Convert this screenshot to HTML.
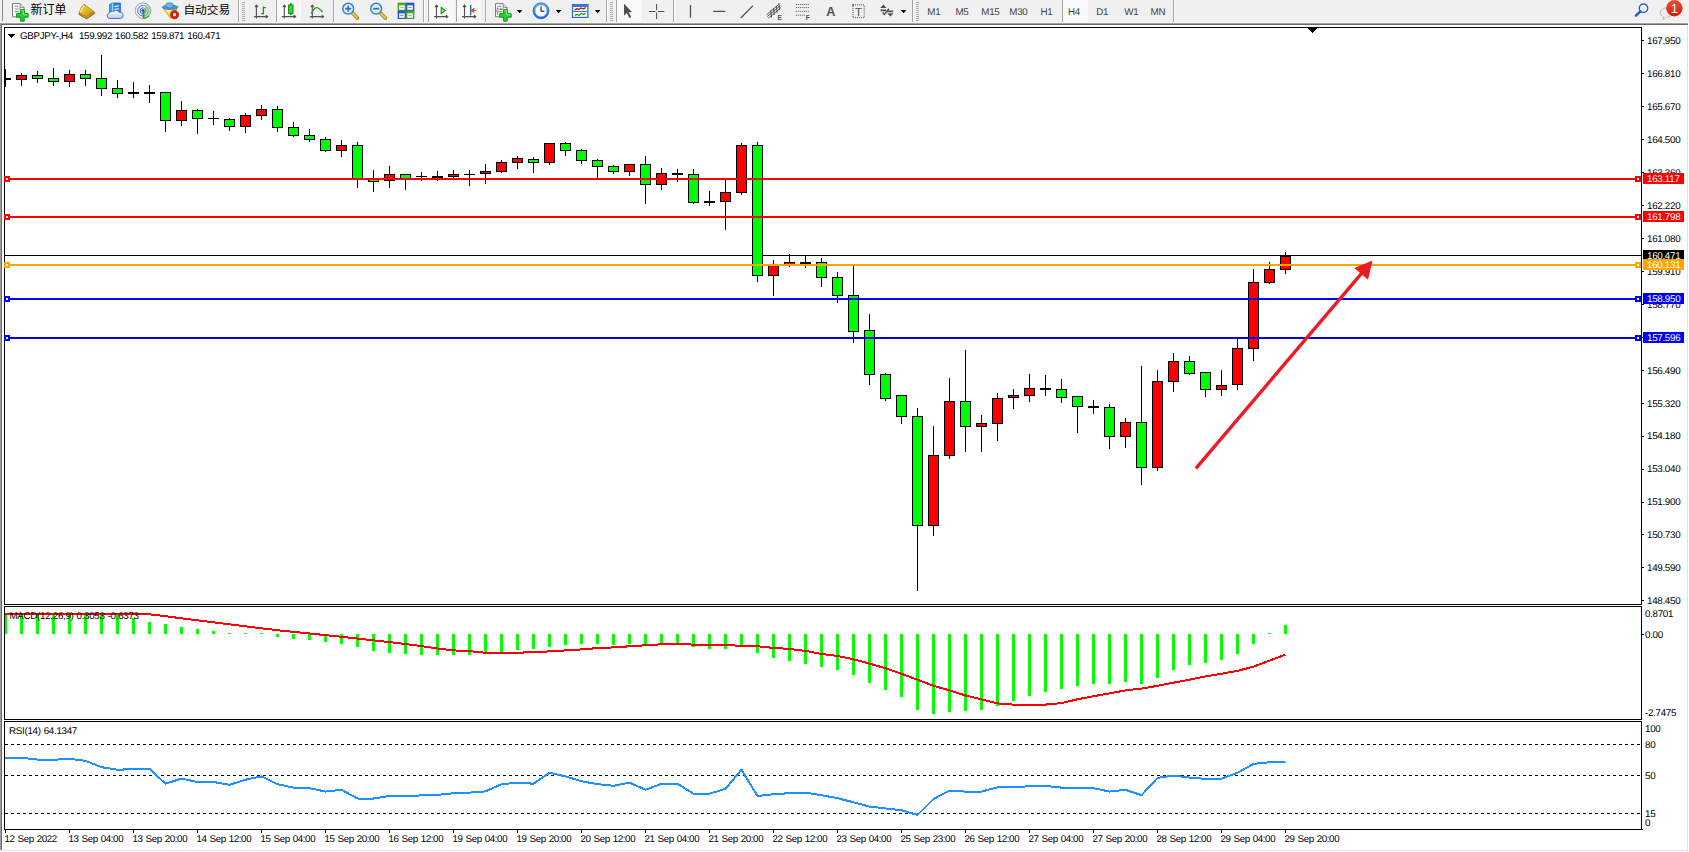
<!DOCTYPE html>
<html lang="zh"><head><meta charset="utf-8"><title>GBPJPY-,H4</title>
<style>
html,body{margin:0;padding:0;background:#fff}
#root{position:relative;width:1689px;height:852px;overflow:hidden;background:#fff;font-family:"Liberation Sans","Noto Sans CJK SC",sans-serif}
svg{position:absolute;left:0;top:0}
.t{position:absolute;white-space:nowrap;font-size:9.8px;line-height:12px;height:12px;letter-spacing:-0.3px;word-spacing:0.6px;text-rendering:geometricPrecision}
.pb{position:absolute;left:1643px;width:41px;font-size:9.8px;white-space:nowrap;letter-spacing:-0.3px;overflow:hidden}
.pb span{position:absolute;left:4px;top:1px;display:block;line-height:12px;height:12px;text-rendering:geometricPrecision}
.tb{position:absolute;white-space:nowrap;line-height:14px;height:14px;color:#000}
.pd{width:40px;text-align:center;font-size:9.8px;line-height:12px;height:12px;color:#444;letter-spacing:-0.3px;text-rendering:geometricPrecision}
</style></head><body><div id="root">
<svg width="1689" height="852" viewBox="0 0 1689 852" shape-rendering="crispEdges">
<rect x="0" y="0" width="1689" height="22" fill="#f0f0f0"/>
<rect x="0" y="22" width="1689" height="1" fill="#f7f7f7"/>
<rect x="0" y="23" width="1688" height="1" fill="#a0a0a0"/>
<rect x="1" y="24" width="1687" height="1" fill="#696969"/>
<rect x="0" y="23" width="1" height="827" fill="#a0a0a0"/>
<rect x="1" y="24" width="1" height="826" fill="#696969"/>
<rect x="1687" y="25" width="1" height="826" fill="#e3e3e3"/>
<rect x="2" y="850" width="1686" height="1" fill="#e3e3e3"/>
<rect x="4" y="27" width="1638" height="1" fill="#000"/>
<rect x="4" y="604" width="1638" height="1" fill="#000"/>
<rect x="4" y="27" width="1" height="578" fill="#000"/>
<rect x="1641" y="27" width="1" height="578" fill="#000"/>
<rect x="4" y="606" width="1638" height="1" fill="#000"/>
<rect x="4" y="719" width="1638" height="1" fill="#000"/>
<rect x="4" y="606" width="1" height="114" fill="#000"/>
<rect x="1641" y="606" width="1" height="114" fill="#000"/>
<rect x="4" y="721" width="1638" height="1" fill="#000"/>
<rect x="4" y="829" width="1638" height="1" fill="#000"/>
<rect x="4" y="721" width="1" height="109" fill="#000"/>
<rect x="1641" y="721" width="1" height="109" fill="#000"/>
<rect x="1642" y="829" width="1" height="1" fill="#000"/>
<rect x="5" y="255" width="1636" height="1" fill="#000"/>
<rect x="5" y="69" width="1" height="18" fill="#000"/>
<rect x="5" y="78" width="6" height="2" fill="#000"/>
<rect x="21" y="73" width="1" height="13" fill="#000"/>
<rect x="16" y="75" width="11" height="5" fill="#000"/>
<rect x="17" y="76" width="9" height="3" fill="#ff0000"/>
<rect x="37" y="71" width="1" height="12" fill="#000"/>
<rect x="32" y="75" width="11" height="4" fill="#000"/>
<rect x="33" y="76" width="9" height="2" fill="#00ff00"/>
<rect x="53" y="68" width="1" height="18" fill="#000"/>
<rect x="48" y="78" width="11" height="4" fill="#000"/>
<rect x="49" y="79" width="9" height="2" fill="#00ff00"/>
<rect x="69" y="70" width="1" height="17" fill="#000"/>
<rect x="64" y="74" width="11" height="8" fill="#000"/>
<rect x="65" y="75" width="9" height="6" fill="#ff0000"/>
<rect x="85" y="70" width="1" height="16" fill="#000"/>
<rect x="80" y="74" width="11" height="5" fill="#000"/>
<rect x="81" y="75" width="9" height="3" fill="#00ff00"/>
<rect x="101" y="55" width="1" height="41" fill="#000"/>
<rect x="96" y="78" width="11" height="11" fill="#000"/>
<rect x="97" y="79" width="9" height="9" fill="#00ff00"/>
<rect x="117" y="80" width="1" height="18" fill="#000"/>
<rect x="112" y="88" width="11" height="6" fill="#000"/>
<rect x="113" y="89" width="9" height="4" fill="#00ff00"/>
<rect x="133" y="82" width="1" height="16" fill="#000"/>
<rect x="128" y="92" width="11" height="2" fill="#000"/>
<rect x="149" y="85" width="1" height="18" fill="#000"/>
<rect x="144" y="92" width="11" height="2" fill="#000"/>
<rect x="165" y="92" width="1" height="40" fill="#000"/>
<rect x="160" y="92" width="11" height="29" fill="#000"/>
<rect x="161" y="93" width="9" height="27" fill="#00ff00"/>
<rect x="181" y="101" width="1" height="25" fill="#000"/>
<rect x="176" y="110" width="11" height="11" fill="#000"/>
<rect x="177" y="111" width="9" height="9" fill="#ff0000"/>
<rect x="197" y="109" width="1" height="25" fill="#000"/>
<rect x="192" y="110" width="11" height="9" fill="#000"/>
<rect x="193" y="111" width="9" height="7" fill="#00ff00"/>
<rect x="213" y="111" width="1" height="14" fill="#000"/>
<rect x="208" y="118" width="11" height="1" fill="#000"/>
<rect x="229" y="118" width="1" height="13" fill="#000"/>
<rect x="224" y="119" width="11" height="8" fill="#000"/>
<rect x="225" y="120" width="9" height="6" fill="#00ff00"/>
<rect x="245" y="113" width="1" height="20" fill="#000"/>
<rect x="240" y="115" width="11" height="12" fill="#000"/>
<rect x="241" y="116" width="9" height="10" fill="#ff0000"/>
<rect x="261" y="105" width="1" height="15" fill="#000"/>
<rect x="256" y="109" width="11" height="7" fill="#000"/>
<rect x="257" y="110" width="9" height="5" fill="#ff0000"/>
<rect x="277" y="106" width="1" height="26" fill="#000"/>
<rect x="272" y="109" width="11" height="19" fill="#000"/>
<rect x="273" y="110" width="9" height="17" fill="#00ff00"/>
<rect x="293" y="122" width="1" height="15" fill="#000"/>
<rect x="288" y="127" width="11" height="9" fill="#000"/>
<rect x="289" y="128" width="9" height="7" fill="#00ff00"/>
<rect x="309" y="129" width="1" height="13" fill="#000"/>
<rect x="304" y="135" width="11" height="5" fill="#000"/>
<rect x="305" y="136" width="9" height="3" fill="#00ff00"/>
<rect x="325" y="137" width="1" height="15" fill="#000"/>
<rect x="320" y="139" width="11" height="12" fill="#000"/>
<rect x="321" y="140" width="9" height="10" fill="#00ff00"/>
<rect x="341" y="140" width="1" height="17" fill="#000"/>
<rect x="336" y="145" width="11" height="6" fill="#000"/>
<rect x="337" y="146" width="9" height="4" fill="#ff0000"/>
<rect x="357" y="142" width="1" height="46" fill="#000"/>
<rect x="352" y="145" width="11" height="35" fill="#000"/>
<rect x="353" y="146" width="9" height="33" fill="#00ff00"/>
<rect x="373" y="170" width="1" height="22" fill="#000"/>
<rect x="368" y="178" width="11" height="4" fill="#000"/>
<rect x="369" y="179" width="9" height="2" fill="#00ff00"/>
<rect x="389" y="166" width="1" height="22" fill="#000"/>
<rect x="384" y="174" width="11" height="7" fill="#000"/>
<rect x="385" y="175" width="9" height="5" fill="#ff0000"/>
<rect x="405" y="174" width="1" height="16" fill="#000"/>
<rect x="400" y="174" width="11" height="5" fill="#000"/>
<rect x="401" y="175" width="9" height="3" fill="#00ff00"/>
<rect x="421" y="172" width="1" height="9" fill="#000"/>
<rect x="416" y="176" width="11" height="1" fill="#000"/>
<rect x="437" y="171" width="1" height="10" fill="#000"/>
<rect x="432" y="176" width="11" height="2" fill="#000"/>
<rect x="453" y="170" width="1" height="8" fill="#000"/>
<rect x="448" y="174" width="11" height="3" fill="#000"/>
<rect x="449" y="175" width="9" height="1" fill="#ff0000"/>
<rect x="469" y="170" width="1" height="16" fill="#000"/>
<rect x="464" y="174" width="11" height="1" fill="#000"/>
<rect x="485" y="164" width="1" height="20" fill="#000"/>
<rect x="480" y="171" width="11" height="3" fill="#000"/>
<rect x="481" y="172" width="9" height="1" fill="#ff0000"/>
<rect x="501" y="160" width="1" height="13" fill="#000"/>
<rect x="496" y="162" width="11" height="10" fill="#000"/>
<rect x="497" y="163" width="9" height="8" fill="#ff0000"/>
<rect x="517" y="156" width="1" height="13" fill="#000"/>
<rect x="512" y="158" width="11" height="5" fill="#000"/>
<rect x="513" y="159" width="9" height="3" fill="#ff0000"/>
<rect x="533" y="157" width="1" height="16" fill="#000"/>
<rect x="528" y="159" width="11" height="4" fill="#000"/>
<rect x="529" y="160" width="9" height="2" fill="#00ff00"/>
<rect x="549" y="143" width="1" height="22" fill="#000"/>
<rect x="544" y="143" width="11" height="20" fill="#000"/>
<rect x="545" y="144" width="9" height="18" fill="#ff0000"/>
<rect x="565" y="142" width="1" height="14" fill="#000"/>
<rect x="560" y="143" width="11" height="8" fill="#000"/>
<rect x="561" y="144" width="9" height="6" fill="#00ff00"/>
<rect x="581" y="149" width="1" height="15" fill="#000"/>
<rect x="576" y="150" width="11" height="11" fill="#000"/>
<rect x="577" y="151" width="9" height="9" fill="#00ff00"/>
<rect x="597" y="159" width="1" height="19" fill="#000"/>
<rect x="592" y="160" width="11" height="7" fill="#000"/>
<rect x="593" y="161" width="9" height="5" fill="#00ff00"/>
<rect x="613" y="165" width="1" height="9" fill="#000"/>
<rect x="608" y="166" width="11" height="6" fill="#000"/>
<rect x="609" y="167" width="9" height="4" fill="#00ff00"/>
<rect x="629" y="164" width="1" height="12" fill="#000"/>
<rect x="624" y="164" width="11" height="8" fill="#000"/>
<rect x="625" y="165" width="9" height="6" fill="#ff0000"/>
<rect x="645" y="156" width="1" height="48" fill="#000"/>
<rect x="640" y="164" width="11" height="21" fill="#000"/>
<rect x="641" y="165" width="9" height="19" fill="#00ff00"/>
<rect x="661" y="168" width="1" height="22" fill="#000"/>
<rect x="656" y="173" width="11" height="12" fill="#000"/>
<rect x="657" y="174" width="9" height="10" fill="#ff0000"/>
<rect x="677" y="169" width="1" height="13" fill="#000"/>
<rect x="672" y="173" width="11" height="2" fill="#000"/>
<rect x="693" y="169" width="1" height="35" fill="#000"/>
<rect x="688" y="174" width="11" height="29" fill="#000"/>
<rect x="689" y="175" width="9" height="27" fill="#00ff00"/>
<rect x="709" y="191" width="1" height="15" fill="#000"/>
<rect x="704" y="201" width="11" height="2" fill="#000"/>
<rect x="725" y="180" width="1" height="50" fill="#000"/>
<rect x="720" y="192" width="11" height="10" fill="#000"/>
<rect x="721" y="193" width="9" height="8" fill="#ff0000"/>
<rect x="741" y="143" width="1" height="52" fill="#000"/>
<rect x="736" y="145" width="11" height="48" fill="#000"/>
<rect x="737" y="146" width="9" height="46" fill="#ff0000"/>
<rect x="757" y="142" width="1" height="140" fill="#000"/>
<rect x="752" y="145" width="11" height="131" fill="#000"/>
<rect x="753" y="146" width="9" height="129" fill="#00ff00"/>
<rect x="773" y="260" width="1" height="36" fill="#000"/>
<rect x="768" y="265" width="11" height="11" fill="#000"/>
<rect x="769" y="266" width="9" height="9" fill="#ff0000"/>
<rect x="789" y="254" width="1" height="13" fill="#000"/>
<rect x="784" y="262" width="11" height="4" fill="#000"/>
<rect x="785" y="263" width="9" height="2" fill="#ff0000"/>
<rect x="805" y="255" width="1" height="13" fill="#000"/>
<rect x="800" y="262" width="11" height="2" fill="#000"/>
<rect x="821" y="258" width="1" height="29" fill="#000"/>
<rect x="816" y="262" width="11" height="16" fill="#000"/>
<rect x="817" y="263" width="9" height="14" fill="#00ff00"/>
<rect x="837" y="272" width="1" height="31" fill="#000"/>
<rect x="832" y="277" width="11" height="19" fill="#000"/>
<rect x="833" y="278" width="9" height="17" fill="#00ff00"/>
<rect x="853" y="266" width="1" height="77" fill="#000"/>
<rect x="848" y="295" width="11" height="37" fill="#000"/>
<rect x="849" y="296" width="9" height="35" fill="#00ff00"/>
<rect x="869" y="314" width="1" height="71" fill="#000"/>
<rect x="864" y="330" width="11" height="45" fill="#000"/>
<rect x="865" y="331" width="9" height="43" fill="#00ff00"/>
<rect x="885" y="373" width="1" height="28" fill="#000"/>
<rect x="880" y="374" width="11" height="25" fill="#000"/>
<rect x="881" y="375" width="9" height="23" fill="#00ff00"/>
<rect x="901" y="395" width="1" height="29" fill="#000"/>
<rect x="896" y="395" width="11" height="22" fill="#000"/>
<rect x="897" y="396" width="9" height="20" fill="#00ff00"/>
<rect x="917" y="408" width="1" height="183" fill="#000"/>
<rect x="912" y="416" width="11" height="110" fill="#000"/>
<rect x="913" y="417" width="9" height="108" fill="#00ff00"/>
<rect x="933" y="426" width="1" height="110" fill="#000"/>
<rect x="928" y="455" width="11" height="71" fill="#000"/>
<rect x="929" y="456" width="9" height="69" fill="#ff0000"/>
<rect x="949" y="378" width="1" height="81" fill="#000"/>
<rect x="944" y="401" width="11" height="55" fill="#000"/>
<rect x="945" y="402" width="9" height="53" fill="#ff0000"/>
<rect x="965" y="350" width="1" height="102" fill="#000"/>
<rect x="960" y="401" width="11" height="26" fill="#000"/>
<rect x="961" y="402" width="9" height="24" fill="#00ff00"/>
<rect x="981" y="415" width="1" height="37" fill="#000"/>
<rect x="976" y="423" width="11" height="4" fill="#000"/>
<rect x="977" y="424" width="9" height="2" fill="#ff0000"/>
<rect x="997" y="393" width="1" height="48" fill="#000"/>
<rect x="992" y="398" width="11" height="26" fill="#000"/>
<rect x="993" y="399" width="9" height="24" fill="#ff0000"/>
<rect x="1013" y="389" width="1" height="20" fill="#000"/>
<rect x="1008" y="395" width="11" height="3" fill="#000"/>
<rect x="1009" y="396" width="9" height="1" fill="#ff0000"/>
<rect x="1029" y="374" width="1" height="28" fill="#000"/>
<rect x="1024" y="388" width="11" height="8" fill="#000"/>
<rect x="1025" y="389" width="9" height="6" fill="#ff0000"/>
<rect x="1045" y="375" width="1" height="21" fill="#000"/>
<rect x="1040" y="388" width="11" height="2" fill="#000"/>
<rect x="1061" y="379" width="1" height="24" fill="#000"/>
<rect x="1056" y="389" width="11" height="9" fill="#000"/>
<rect x="1057" y="390" width="9" height="7" fill="#00ff00"/>
<rect x="1077" y="396" width="1" height="37" fill="#000"/>
<rect x="1072" y="396" width="11" height="11" fill="#000"/>
<rect x="1073" y="397" width="9" height="9" fill="#00ff00"/>
<rect x="1093" y="400" width="1" height="14" fill="#000"/>
<rect x="1088" y="406" width="11" height="2" fill="#000"/>
<rect x="1109" y="404" width="1" height="45" fill="#000"/>
<rect x="1104" y="407" width="11" height="30" fill="#000"/>
<rect x="1105" y="408" width="9" height="28" fill="#00ff00"/>
<rect x="1125" y="418" width="1" height="30" fill="#000"/>
<rect x="1120" y="422" width="11" height="15" fill="#000"/>
<rect x="1121" y="423" width="9" height="13" fill="#ff0000"/>
<rect x="1141" y="366" width="1" height="119" fill="#000"/>
<rect x="1136" y="422" width="11" height="46" fill="#000"/>
<rect x="1137" y="423" width="9" height="44" fill="#00ff00"/>
<rect x="1157" y="370" width="1" height="101" fill="#000"/>
<rect x="1152" y="381" width="11" height="87" fill="#000"/>
<rect x="1153" y="382" width="9" height="85" fill="#ff0000"/>
<rect x="1173" y="353" width="1" height="39" fill="#000"/>
<rect x="1168" y="361" width="11" height="21" fill="#000"/>
<rect x="1169" y="362" width="9" height="19" fill="#ff0000"/>
<rect x="1189" y="356" width="1" height="19" fill="#000"/>
<rect x="1184" y="361" width="11" height="13" fill="#000"/>
<rect x="1185" y="362" width="9" height="11" fill="#00ff00"/>
<rect x="1205" y="372" width="1" height="25" fill="#000"/>
<rect x="1200" y="372" width="11" height="18" fill="#000"/>
<rect x="1201" y="373" width="9" height="16" fill="#00ff00"/>
<rect x="1221" y="370" width="1" height="26" fill="#000"/>
<rect x="1216" y="385" width="11" height="5" fill="#000"/>
<rect x="1217" y="386" width="9" height="3" fill="#ff0000"/>
<rect x="1237" y="338" width="1" height="52" fill="#000"/>
<rect x="1232" y="348" width="11" height="37" fill="#000"/>
<rect x="1233" y="349" width="9" height="35" fill="#ff0000"/>
<rect x="1253" y="269" width="1" height="92" fill="#000"/>
<rect x="1248" y="282" width="11" height="67" fill="#000"/>
<rect x="1249" y="283" width="9" height="65" fill="#ff0000"/>
<rect x="1269" y="262" width="1" height="22" fill="#000"/>
<rect x="1264" y="269" width="11" height="14" fill="#000"/>
<rect x="1265" y="270" width="9" height="12" fill="#ff0000"/>
<rect x="1285" y="252" width="1" height="22" fill="#000"/>
<rect x="1280" y="256" width="11" height="14" fill="#000"/>
<rect x="1281" y="257" width="9" height="12" fill="#ff0000"/>
<rect x="4" y="178" width="1637" height="2" fill="#ff0000"/>
<rect x="4" y="176" width="6" height="6" fill="#ff0000"/>
<rect x="6" y="178" width="2" height="2" fill="#fff"/>
<rect x="1635" y="176" width="6" height="6" fill="#ff0000"/>
<rect x="1637" y="178" width="2" height="2" fill="#fff"/>
<rect x="4" y="216" width="1637" height="2" fill="#ff0000"/>
<rect x="4" y="214" width="6" height="6" fill="#ff0000"/>
<rect x="6" y="216" width="2" height="2" fill="#fff"/>
<rect x="1635" y="214" width="6" height="6" fill="#ff0000"/>
<rect x="1637" y="216" width="2" height="2" fill="#fff"/>
<rect x="4" y="264" width="1637" height="2" fill="#ffa500"/>
<rect x="4" y="262" width="6" height="6" fill="#ffa500"/>
<rect x="6" y="264" width="2" height="2" fill="#fff"/>
<rect x="1635" y="262" width="6" height="6" fill="#ffa500"/>
<rect x="1637" y="264" width="2" height="2" fill="#fff"/>
<rect x="4" y="298" width="1637" height="2" fill="#0000ff"/>
<rect x="4" y="296" width="6" height="6" fill="#0000ff"/>
<rect x="6" y="298" width="2" height="2" fill="#fff"/>
<rect x="1635" y="296" width="6" height="6" fill="#0000ff"/>
<rect x="1637" y="298" width="2" height="2" fill="#fff"/>
<rect x="4" y="337" width="1637" height="2" fill="#0000ff"/>
<rect x="4" y="335" width="6" height="6" fill="#0000ff"/>
<rect x="6" y="337" width="2" height="2" fill="#fff"/>
<rect x="1635" y="335" width="6" height="6" fill="#0000ff"/>
<rect x="1637" y="337" width="2" height="2" fill="#fff"/>
<rect x="1642" y="40" width="2" height="1" fill="#000"/>
<rect x="1642" y="73" width="2" height="1" fill="#000"/>
<rect x="1642" y="106" width="2" height="1" fill="#000"/>
<rect x="1642" y="139" width="2" height="1" fill="#000"/>
<rect x="1642" y="172" width="2" height="1" fill="#000"/>
<rect x="1642" y="205" width="2" height="1" fill="#000"/>
<rect x="1642" y="238" width="2" height="1" fill="#000"/>
<rect x="1642" y="271" width="2" height="1" fill="#000"/>
<rect x="1642" y="304" width="2" height="1" fill="#000"/>
<rect x="1642" y="337" width="2" height="1" fill="#000"/>
<rect x="1642" y="370" width="2" height="1" fill="#000"/>
<rect x="1642" y="403" width="2" height="1" fill="#000"/>
<rect x="1642" y="436" width="2" height="1" fill="#000"/>
<rect x="1642" y="469" width="2" height="1" fill="#000"/>
<rect x="1642" y="502" width="2" height="1" fill="#000"/>
<rect x="1642" y="534" width="2" height="1" fill="#000"/>
<rect x="1642" y="567" width="2" height="1" fill="#000"/>
<rect x="1642" y="600" width="2" height="1" fill="#000"/>
<rect x="5" y="614" width="2" height="20" fill="#00ff00"/>
<rect x="20" y="614" width="3" height="20" fill="#00ff00"/>
<rect x="36" y="614" width="3" height="20" fill="#00ff00"/>
<rect x="52" y="614" width="3" height="20" fill="#00ff00"/>
<rect x="68" y="614" width="3" height="20" fill="#00ff00"/>
<rect x="84" y="614" width="3" height="20" fill="#00ff00"/>
<rect x="100" y="615" width="3" height="19" fill="#00ff00"/>
<rect x="116" y="615" width="3" height="19" fill="#00ff00"/>
<rect x="132" y="618" width="3" height="16" fill="#00ff00"/>
<rect x="148" y="622" width="3" height="12" fill="#00ff00"/>
<rect x="164" y="624" width="3" height="10" fill="#00ff00"/>
<rect x="180" y="627" width="3" height="7" fill="#00ff00"/>
<rect x="196" y="629" width="3" height="5" fill="#00ff00"/>
<rect x="212" y="631" width="3" height="3" fill="#00ff00"/>
<rect x="228" y="633" width="3" height="1" fill="#00ff00"/>
<rect x="244" y="633" width="3" height="1" fill="#00ff00"/>
<rect x="260" y="633" width="3" height="1" fill="#00ff00"/>
<rect x="276" y="634" width="3" height="3" fill="#00ff00"/>
<rect x="292" y="634" width="3" height="5" fill="#00ff00"/>
<rect x="308" y="634" width="3" height="6" fill="#00ff00"/>
<rect x="324" y="634" width="3" height="8" fill="#00ff00"/>
<rect x="340" y="634" width="3" height="10" fill="#00ff00"/>
<rect x="356" y="634" width="3" height="13" fill="#00ff00"/>
<rect x="372" y="634" width="3" height="17" fill="#00ff00"/>
<rect x="388" y="634" width="3" height="19" fill="#00ff00"/>
<rect x="404" y="634" width="3" height="20" fill="#00ff00"/>
<rect x="420" y="634" width="3" height="21" fill="#00ff00"/>
<rect x="436" y="634" width="3" height="21" fill="#00ff00"/>
<rect x="452" y="634" width="3" height="21" fill="#00ff00"/>
<rect x="468" y="634" width="3" height="21" fill="#00ff00"/>
<rect x="484" y="634" width="3" height="20" fill="#00ff00"/>
<rect x="500" y="634" width="3" height="18" fill="#00ff00"/>
<rect x="516" y="634" width="3" height="16" fill="#00ff00"/>
<rect x="532" y="634" width="3" height="15" fill="#00ff00"/>
<rect x="548" y="634" width="3" height="13" fill="#00ff00"/>
<rect x="564" y="634" width="3" height="11" fill="#00ff00"/>
<rect x="580" y="634" width="3" height="10" fill="#00ff00"/>
<rect x="596" y="634" width="3" height="10" fill="#00ff00"/>
<rect x="612" y="634" width="3" height="11" fill="#00ff00"/>
<rect x="628" y="634" width="3" height="10" fill="#00ff00"/>
<rect x="644" y="634" width="3" height="11" fill="#00ff00"/>
<rect x="660" y="634" width="3" height="10" fill="#00ff00"/>
<rect x="676" y="634" width="3" height="10" fill="#00ff00"/>
<rect x="692" y="634" width="3" height="13" fill="#00ff00"/>
<rect x="708" y="634" width="3" height="15" fill="#00ff00"/>
<rect x="724" y="634" width="3" height="15" fill="#00ff00"/>
<rect x="740" y="634" width="3" height="12" fill="#00ff00"/>
<rect x="756" y="634" width="3" height="19" fill="#00ff00"/>
<rect x="772" y="634" width="3" height="24" fill="#00ff00"/>
<rect x="788" y="634" width="3" height="27" fill="#00ff00"/>
<rect x="804" y="634" width="3" height="30" fill="#00ff00"/>
<rect x="820" y="634" width="3" height="33" fill="#00ff00"/>
<rect x="836" y="634" width="3" height="36" fill="#00ff00"/>
<rect x="852" y="634" width="3" height="41" fill="#00ff00"/>
<rect x="868" y="634" width="3" height="49" fill="#00ff00"/>
<rect x="884" y="634" width="3" height="56" fill="#00ff00"/>
<rect x="900" y="634" width="3" height="63" fill="#00ff00"/>
<rect x="916" y="634" width="3" height="76" fill="#00ff00"/>
<rect x="932" y="634" width="3" height="80" fill="#00ff00"/>
<rect x="948" y="634" width="3" height="78" fill="#00ff00"/>
<rect x="964" y="634" width="3" height="77" fill="#00ff00"/>
<rect x="980" y="634" width="3" height="76" fill="#00ff00"/>
<rect x="996" y="634" width="3" height="72" fill="#00ff00"/>
<rect x="1012" y="634" width="3" height="67" fill="#00ff00"/>
<rect x="1028" y="634" width="3" height="62" fill="#00ff00"/>
<rect x="1044" y="634" width="3" height="58" fill="#00ff00"/>
<rect x="1060" y="634" width="3" height="55" fill="#00ff00"/>
<rect x="1076" y="634" width="3" height="52" fill="#00ff00"/>
<rect x="1092" y="634" width="3" height="50" fill="#00ff00"/>
<rect x="1108" y="634" width="3" height="50" fill="#00ff00"/>
<rect x="1124" y="634" width="3" height="48" fill="#00ff00"/>
<rect x="1140" y="634" width="3" height="50" fill="#00ff00"/>
<rect x="1156" y="634" width="3" height="44" fill="#00ff00"/>
<rect x="1172" y="634" width="3" height="36" fill="#00ff00"/>
<rect x="1188" y="634" width="3" height="31" fill="#00ff00"/>
<rect x="1204" y="634" width="3" height="29" fill="#00ff00"/>
<rect x="1220" y="634" width="3" height="26" fill="#00ff00"/>
<rect x="1236" y="634" width="3" height="20" fill="#00ff00"/>
<rect x="1252" y="634" width="3" height="10" fill="#00ff00"/>
<rect x="1268" y="633" width="3" height="1" fill="#00ff00"/>
<rect x="1284" y="625" width="3" height="9" fill="#00ff00"/>
<polyline points="5.0,614.0 21.5,614.0 37.5,614.0 53.5,614.0 69.5,614.0 85.5,614.0 101.5,614.0 117.5,614.0 133.5,614.0 149.5,614.3 165.5,616.2 181.5,618.3 197.5,620.3 213.5,622.3 229.5,624.3 245.5,626.3 261.5,628.3 277.5,630.2 293.5,631.9 309.5,633.5 325.5,635.1 341.5,636.8 357.5,638.6 373.5,640.3 389.5,642.1 405.5,644.1 421.5,646.1 437.5,648.4 453.5,650.4 469.5,651.2 485.5,652.7 501.5,652.7 517.5,652.7 533.5,652.2 549.5,651.4 565.5,650.4 581.5,649.4 597.5,648.1 613.5,647.4 629.5,646.3 645.5,645.3 661.5,644.3 677.5,644.0 693.5,644.6 709.5,645.1 725.5,645.1 741.5,645.8 757.5,646.3 773.5,647.9 789.5,648.9 805.5,650.9 821.5,654.0 837.5,656.0 853.5,659.3 869.5,663.6 885.5,668.2 901.5,673.8 917.5,679.7 933.5,685.8 949.5,690.4 965.5,695.5 981.5,699.3 997.5,703.4 1013.5,704.6 1029.5,704.6 1045.5,704.6 1061.5,703.1 1077.5,699.3 1093.5,696.2 1109.5,693.4 1125.5,690.4 1141.5,688.6 1157.5,685.8 1173.5,682.7 1189.5,679.7 1205.5,676.4 1221.5,673.8 1237.5,670.8 1253.5,666.7 1269.5,660.6 1285.5,654.6" fill="none" stroke="#ff0000" stroke-width="2" stroke-linejoin="round"/>
<rect x="1642" y="634" width="2" height="1" fill="#000"/>
<line x1="5" y1="744.5" x2="1641" y2="744.5" stroke="#000" stroke-width="1" stroke-dasharray="3 3"/>
<line x1="5" y1="775.5" x2="1641" y2="775.5" stroke="#000" stroke-width="1" stroke-dasharray="3 3"/>
<line x1="5" y1="813.5" x2="1641" y2="813.5" stroke="#000" stroke-width="1" stroke-dasharray="3 3"/>
<polyline points="5.0,757.8 21.5,757.8 37.5,759.6 53.5,759.8 69.5,758.8 85.5,760.8 101.5,767.2 117.5,769.7 133.5,769.2 149.5,768.7 165.5,783.7 181.5,778.6 197.5,782.0 213.5,782.0 229.5,784.8 245.5,779.7 261.5,776.4 277.5,784.2 293.5,787.6 309.5,788.1 325.5,791.6 341.5,789.8 357.5,798.5 373.5,798.5 389.5,796.0 405.5,796.0 421.5,795.4 437.5,794.9 453.5,793.2 469.5,792.6 485.5,791.4 501.5,784.2 517.5,782.7 533.5,783.7 549.5,772.8 565.5,776.4 581.5,781.2 597.5,784.2 613.5,785.8 629.5,782.7 645.5,789.8 661.5,783.7 677.5,783.7 693.5,793.7 709.5,793.7 725.5,788.8 741.5,769.7 757.5,796.0 773.5,794.2 789.5,793.2 805.5,792.6 821.5,795.2 837.5,798.2 853.5,802.3 869.5,806.6 885.5,808.4 901.5,810.2 917.5,815.0 933.5,799.0 949.5,790.6 965.5,791.6 981.5,791.6 997.5,787.3 1013.5,787.0 1029.5,786.3 1045.5,786.0 1061.5,787.6 1077.5,787.8 1093.5,788.1 1109.5,791.6 1125.5,789.8 1141.5,795.2 1157.5,777.9 1173.5,775.6 1189.5,777.6 1205.5,778.9 1221.5,778.6 1237.5,772.8 1253.5,763.9 1269.5,762.3 1285.5,761.7" fill="none" stroke="#1e90ff" stroke-width="2" stroke-linejoin="round"/>
<rect x="5" y="830" width="1" height="3" fill="#000"/>
<rect x="69" y="830" width="1" height="3" fill="#000"/>
<rect x="133" y="830" width="1" height="3" fill="#000"/>
<rect x="197" y="830" width="1" height="3" fill="#000"/>
<rect x="261" y="830" width="1" height="3" fill="#000"/>
<rect x="325" y="830" width="1" height="3" fill="#000"/>
<rect x="389" y="830" width="1" height="3" fill="#000"/>
<rect x="453" y="830" width="1" height="3" fill="#000"/>
<rect x="517" y="830" width="1" height="3" fill="#000"/>
<rect x="581" y="830" width="1" height="3" fill="#000"/>
<rect x="645" y="830" width="1" height="3" fill="#000"/>
<rect x="709" y="830" width="1" height="3" fill="#000"/>
<rect x="773" y="830" width="1" height="3" fill="#000"/>
<rect x="837" y="830" width="1" height="3" fill="#000"/>
<rect x="901" y="830" width="1" height="3" fill="#000"/>
<rect x="965" y="830" width="1" height="3" fill="#000"/>
<rect x="1029" y="830" width="1" height="3" fill="#000"/>
<rect x="1093" y="830" width="1" height="3" fill="#000"/>
<rect x="1157" y="830" width="1" height="3" fill="#000"/>
<rect x="1221" y="830" width="1" height="3" fill="#000"/>
<rect x="1285" y="830" width="1" height="3" fill="#000"/>
<rect x="8" y="34" width="7" height="1" fill="#000"/>
<rect x="9" y="35" width="5" height="1" fill="#000"/>
<rect x="10" y="36" width="3" height="1" fill="#000"/>
<rect x="11" y="37" width="1" height="1" fill="#000"/>
<rect x="1308" y="28" width="9" height="1" fill="#000"/>
<rect x="1309" y="29" width="7" height="1" fill="#000"/>
<rect x="1310" y="30" width="5" height="1" fill="#000"/>
<rect x="1311" y="31" width="3" height="1" fill="#000"/>
<rect x="1312" y="32" width="1" height="1" fill="#000"/>
</svg>
<svg width="1689" height="852" viewBox="0 0 1689 852">
<line x1="1195.9" y1="468.3" x2="1361.8" y2="273.2" stroke="#ec1c24" stroke-width="3.4"/>
<polygon points="1372.5,260.6 1368.0,279.8 1354.3,268.1" fill="#ec1c24"/>
<defs><linearGradient id="gGold" x1="0" y1="0" x2="1" y2="1"><stop offset="0" stop-color="#f7dc4a"/><stop offset="1" stop-color="#c98f14"/></linearGradient><linearGradient id="gRed" x1="0" y1="0" x2="0" y2="1"><stop offset="0" stop-color="#ec5232"/><stop offset="1" stop-color="#cf1e0e"/></linearGradient><linearGradient id="gBlue" x1="0" y1="0" x2="0" y2="1"><stop offset="0" stop-color="#5cb4f4"/><stop offset="1" stop-color="#1c6cd8"/></linearGradient><linearGradient id="gCloud" x1="0" y1="0" x2="0" y2="1"><stop offset="0" stop-color="#ffffff"/><stop offset="1" stop-color="#b8cce8"/></linearGradient></defs>
<rect x="2" y="0" width="1" height="21" fill="#8c8c8c" shape-rendering="crispEdges"/>
<rect x="278" y="0" width="23" height="22" fill="#f9f9f9" shape-rendering="crispEdges"/>
<rect x="429" y="0" width="25" height="22" fill="#f9f9f9" shape-rendering="crispEdges"/><rect x="428" y="0" width="1" height="22" fill="#a6a6a6" shape-rendering="crispEdges"/>
<rect x="457" y="0" width="24" height="22" fill="#f9f9f9" shape-rendering="crispEdges"/><rect x="456" y="0" width="1" height="22" fill="#a6a6a6" shape-rendering="crispEdges"/>
<rect x="617" y="0" width="25" height="22" fill="#f9f9f9" shape-rendering="crispEdges"/><rect x="616" y="0" width="1" height="22" fill="#a6a6a6" shape-rendering="crispEdges"/>
<rect x="1063" y="0" width="25" height="22" fill="#f9f9f9" shape-rendering="crispEdges"/><rect x="1062" y="0" width="1" height="22" fill="#a6a6a6" shape-rendering="crispEdges"/>
<rect x="238" y="0" width="1" height="22" fill="#a6a6a6" shape-rendering="crispEdges"/><rect x="239" y="0" width="1" height="22" fill="#fbfbfb" shape-rendering="crispEdges"/>
<rect x="276" y="0" width="1" height="22" fill="#a6a6a6" shape-rendering="crispEdges"/><rect x="277" y="0" width="1" height="22" fill="#fbfbfb" shape-rendering="crispEdges"/>
<rect x="333" y="0" width="1" height="22" fill="#a6a6a6" shape-rendering="crispEdges"/><rect x="334" y="0" width="1" height="22" fill="#fbfbfb" shape-rendering="crispEdges"/>
<rect x="423" y="0" width="1" height="22" fill="#a6a6a6" shape-rendering="crispEdges"/><rect x="424" y="0" width="1" height="22" fill="#fbfbfb" shape-rendering="crispEdges"/>
<rect x="485" y="0" width="1" height="22" fill="#a6a6a6" shape-rendering="crispEdges"/><rect x="486" y="0" width="1" height="22" fill="#fbfbfb" shape-rendering="crispEdges"/>
<rect x="606" y="0" width="1" height="22" fill="#a6a6a6" shape-rendering="crispEdges"/><rect x="607" y="0" width="1" height="22" fill="#fbfbfb" shape-rendering="crispEdges"/>
<rect x="673" y="0" width="1" height="22" fill="#a6a6a6" shape-rendering="crispEdges"/><rect x="674" y="0" width="1" height="22" fill="#fbfbfb" shape-rendering="crispEdges"/>
<rect x="912" y="0" width="1" height="22" fill="#a6a6a6" shape-rendering="crispEdges"/><rect x="913" y="0" width="1" height="22" fill="#fbfbfb" shape-rendering="crispEdges"/>
<rect x="1173" y="0" width="1" height="22" fill="#a6a6a6" shape-rendering="crispEdges"/><rect x="1174" y="0" width="1" height="22" fill="#fbfbfb" shape-rendering="crispEdges"/>
<rect x="242" y="2" width="3" height="1" fill="#b0b0b0" shape-rendering="crispEdges"/><rect x="242" y="4" width="3" height="1" fill="#b0b0b0" shape-rendering="crispEdges"/><rect x="242" y="6" width="3" height="1" fill="#b0b0b0" shape-rendering="crispEdges"/><rect x="242" y="8" width="3" height="1" fill="#b0b0b0" shape-rendering="crispEdges"/><rect x="242" y="10" width="3" height="1" fill="#b0b0b0" shape-rendering="crispEdges"/><rect x="242" y="12" width="3" height="1" fill="#b0b0b0" shape-rendering="crispEdges"/><rect x="242" y="14" width="3" height="1" fill="#b0b0b0" shape-rendering="crispEdges"/><rect x="242" y="16" width="3" height="1" fill="#b0b0b0" shape-rendering="crispEdges"/><rect x="242" y="18" width="3" height="1" fill="#b0b0b0" shape-rendering="crispEdges"/><rect x="242" y="20" width="3" height="1" fill="#b0b0b0" shape-rendering="crispEdges"/>
<rect x="610" y="2" width="3" height="1" fill="#b0b0b0" shape-rendering="crispEdges"/><rect x="610" y="4" width="3" height="1" fill="#b0b0b0" shape-rendering="crispEdges"/><rect x="610" y="6" width="3" height="1" fill="#b0b0b0" shape-rendering="crispEdges"/><rect x="610" y="8" width="3" height="1" fill="#b0b0b0" shape-rendering="crispEdges"/><rect x="610" y="10" width="3" height="1" fill="#b0b0b0" shape-rendering="crispEdges"/><rect x="610" y="12" width="3" height="1" fill="#b0b0b0" shape-rendering="crispEdges"/><rect x="610" y="14" width="3" height="1" fill="#b0b0b0" shape-rendering="crispEdges"/><rect x="610" y="16" width="3" height="1" fill="#b0b0b0" shape-rendering="crispEdges"/><rect x="610" y="18" width="3" height="1" fill="#b0b0b0" shape-rendering="crispEdges"/><rect x="610" y="20" width="3" height="1" fill="#b0b0b0" shape-rendering="crispEdges"/>
<rect x="916" y="2" width="3" height="1" fill="#b0b0b0" shape-rendering="crispEdges"/><rect x="916" y="4" width="3" height="1" fill="#b0b0b0" shape-rendering="crispEdges"/><rect x="916" y="6" width="3" height="1" fill="#b0b0b0" shape-rendering="crispEdges"/><rect x="916" y="8" width="3" height="1" fill="#b0b0b0" shape-rendering="crispEdges"/><rect x="916" y="10" width="3" height="1" fill="#b0b0b0" shape-rendering="crispEdges"/><rect x="916" y="12" width="3" height="1" fill="#b0b0b0" shape-rendering="crispEdges"/><rect x="916" y="14" width="3" height="1" fill="#b0b0b0" shape-rendering="crispEdges"/><rect x="916" y="16" width="3" height="1" fill="#b0b0b0" shape-rendering="crispEdges"/><rect x="916" y="18" width="3" height="1" fill="#b0b0b0" shape-rendering="crispEdges"/><rect x="916" y="20" width="3" height="1" fill="#b0b0b0" shape-rendering="crispEdges"/>
<path d="M12.5,3.6h7.6l4,4v9.2h-11.6z" fill="#fdfdfd" stroke="#7c7c7c" stroke-width="1"/><path d="M20.1,3.6v4h4" fill="#e4e4e4" stroke="#7c7c7c" stroke-width=".9"/><path d="M14.6,6.4h3.6M14.6,9h6.4M14.6,11.6h5" stroke="#9a9a9a" stroke-width="1.1"/><path d="M20.6,9.6h3.6v4h4v3.6h-4v4h-3.6v-4h-4v-3.6h4z" fill="#1fd42a" stroke="#0a8f14" stroke-width=".9"/><path d="M21.4,10.6h2v4.2h4" fill="none" stroke="#8cf594" stroke-width=".9"/>
<path d="M79.2,12.7L86.4,16.6L93.7,11.3L94.9,13.4L86.5,19L79,14.5z" fill="#b27a14" stroke="#86580a" stroke-width=".7"/><path d="M84,4.3L93.7,11.3L86.4,16.6L79.2,12.7Q80.4,7.6 84,4.3z" fill="url(#gGold)" stroke="#a87a12" stroke-width=".8"/><path d="M84.2,5.6Q81.4,8.6 80.4,12.4" fill="none" stroke="#fdf2b0" stroke-width="1.1"/><path d="M80,13.8L86.5,17.6L94,12.4" fill="none" stroke="#e0b040" stroke-width=".7"/>
<path d="M109.6,4.4l3,-1.4h7.8v9.8h-10.8z" fill="#2f86ea" stroke="#1560c4" stroke-width=".8"/><path d="M109.6,4.4l3,-1.4v9.8h-3z" fill="#22a6ff"/><path d="M112.7,3.2v9.4" stroke="#d4ecff" stroke-width=".9"/><path d="M114.4,6.6l4.6,-.8M114.4,9.4l4.6,-.6" stroke="#e8f4ff" stroke-width="1.1"/><path d="M109.6,18.5a2.7,2.7 0 0 1 -.3,-5.3a3,3 0 0 1 4.2,-1.6a3.3,3.3 0 0 1 5.6,.6a2.9,2.9 0 0 1 1.6,6.3z" fill="url(#gCloud)" stroke="#4c72b8" stroke-width="1"/>
<path d="M143.2,10.6L147.4,4A7.8,7.8 0 0 1 143.6,18.4z" fill="#8cc48c" opacity=".55"/><g fill="none" stroke-width="1"><path d="M143,2.9a7.8,7.8 0 0 0 0,15.6" stroke="#8aa6e4"/><path d="M143,5.4a5.3,5.3 0 0 0 0,10.6" stroke="#4a78d8"/><path d="M143,7.8a2.9,2.9 0 0 0 0,5.8" stroke="#3a66d0"/><path d="M143,2.9a7.8,7.8 0 0 1 0,15.6" stroke="#8ab48a"/><path d="M143,5.4a5.3,5.3 0 0 1 0,10.6" stroke="#7aac7a"/><path d="M143,7.8a2.9,2.9 0 0 1 0,5.8" stroke="#6aa06a"/></g><path d="M143.6,11v7.4" fill="none" stroke="#22a022" stroke-width="1.7"/><path d="M143.6,18.4q3.4,-.2 5.2,-2.6" fill="none" stroke="#3aa83a" stroke-width="1.2"/><circle cx="143" cy="10.5" r="1.6" fill="#2a5ad8"/>
<path d="M163.4,8.6h13.6l-6.4,9.9z" fill="#f6d630" stroke="#c8a010" stroke-width=".8"/><path d="M165.4,9.6h6l-2,5z" fill="#fdf3a8" opacity=".8"/><ellipse cx="170.1" cy="7.3" rx="7.9" ry="2.2" fill="#4a98d8" stroke="#2a70b8" stroke-width=".7"/><ellipse cx="169.6" cy="5.4" rx="4" ry="2.6" fill="#6ab6ee" stroke="#2a70b8" stroke-width=".7"/><circle cx="174.5" cy="14.7" r="4.2" fill="#d8200e" stroke="#a81408" stroke-width=".6"/><rect x="173.1" y="13.3" width="2.8" height="2.8" fill="#fff"/>
<g stroke="#505050" stroke-width="1.1" fill="none"><path d="M256.4,5.4V18.6M253.99999999999997,16.6H267.4"/><path d="M254.89999999999998,7.2L256.4,5.2L257.9,7.2M265.79999999999995,15.1L267.7,16.6L265.79999999999995,18.1"/></g>
<path d="M263.4,6.6V14.6M261.2,13.6h2.2M263.4,7.6h2.4" fill="none" stroke="#169a16" stroke-width="1.3"/>
<g stroke="#505050" stroke-width="1.1" fill="none"><path d="M284.3,5.4V18.6M281.90000000000003,16.6H295.3"/><path d="M282.8,7.2L284.3,5.2L285.8,7.2M293.7,15.1L295.6,16.6L293.7,18.1"/></g>
<path d="M290.8,2.9V15.2" stroke="#0a8a0a" stroke-width="1.4"/><rect x="288.6" y="5" width="4.4" height="8.4" fill="#35d83a" stroke="#0a8a0a" stroke-width="1"/>
<g stroke="#505050" stroke-width="1.1" fill="none"><path d="M312.3,5.4V18.6M309.90000000000003,16.6H323.3"/><path d="M310.8,7.2L312.3,5.2L313.8,7.2M321.7,15.1L323.6,16.6L321.7,18.1"/></g>
<path d="M311.2,13.6Q315,6.4 317.6,7.8T322.6,12" fill="none" stroke="#2a9a2a" stroke-width="1.3"/>
<path d="M351.8,12.3L357.4,17.9" stroke="#9a7a18" stroke-width="3.6" stroke-linecap="round"/><path d="M352.0,12.5L357.2,17.7" stroke="#ecc838" stroke-width="2.2" stroke-linecap="round"/><circle cx="348.2" cy="8.7" r="5.4" fill="#dcefff" stroke="#3b7fd2" stroke-width="1.5"/><path d="M345.2,8.7h6" stroke="#2f6fc0" stroke-width="1.7"/><path d="M348.2,5.7v6" stroke="#2f6fc0" stroke-width="1.7"/>
<path d="M379.8,12.3L385.4,17.9" stroke="#9a7a18" stroke-width="3.6" stroke-linecap="round"/><path d="M380.0,12.5L385.2,17.7" stroke="#ecc838" stroke-width="2.2" stroke-linecap="round"/><circle cx="376.2" cy="8.7" r="5.4" fill="#dcefff" stroke="#3b7fd2" stroke-width="1.5"/><path d="M373.2,8.7h6" stroke="#2f6fc0" stroke-width="1.7"/>
<rect x="398" y="3" width="7.8" height="7.7" fill="#4cae2a" stroke="#3a8a1a" stroke-width=".6"/><rect x="399.1" y="5.4" width="5.6" height="4.4" fill="#f4f8ff"/><rect x="400.2" y="7" width="3.4" height="1" fill="#4cae2a" opacity=".6"/>
<rect x="406.2" y="3" width="7.8" height="7.7" fill="#2c5ee0" stroke="#1a3eb0" stroke-width=".6"/><rect x="407.3" y="5.4" width="5.6" height="4.4" fill="#f4f8ff"/><rect x="408.4" y="7" width="3.4" height="1" fill="#2c5ee0" opacity=".6"/>
<rect x="398" y="11" width="7.8" height="7.7" fill="#2c5ee0" stroke="#1a3eb0" stroke-width=".6"/><rect x="399.1" y="13.4" width="5.6" height="4.4" fill="#f4f8ff"/><rect x="400.2" y="15" width="3.4" height="1" fill="#2c5ee0" opacity=".6"/>
<rect x="406.2" y="11" width="7.8" height="7.7" fill="#4cae2a" stroke="#3a8a1a" stroke-width=".6"/><rect x="407.3" y="13.4" width="5.6" height="4.4" fill="#f4f8ff"/><rect x="408.4" y="15" width="3.4" height="1" fill="#4cae2a" opacity=".6"/>
<g stroke="#505050" stroke-width="1.1" fill="none"><path d="M436.5,5.4V18.6M434.1,16.6H447.5"/><path d="M435.0,7.2L436.5,5.2L438.0,7.2M445.9,15.1L447.8,16.6L445.9,18.1"/></g>
<path d="M441.2,7.4L445.3,10.5L441.2,13.6z" fill="#7be87b" stroke="#169a16" stroke-width="1.1"/>
<g stroke="#505050" stroke-width="1.1" fill="none"><path d="M464.5,5.4V18.6M462.1,16.6H475.5"/><path d="M463.0,7.2L464.5,5.2L466.0,7.2M473.9,15.1L475.8,16.6L473.9,18.1"/></g>
<path d="M470.7,5V15.2" stroke="#1c6fae" stroke-width="1.4"/><path d="M476.4,10.4h-4M474.2,8.2l-2.4,2.2l2.4,2.2" fill="none" stroke="#e04a10" stroke-width="1.3"/>
<path d="M495.5,3.6h7.6l4,4v9.2h-11.6z" fill="#fdfdfd" stroke="#7c7c7c" stroke-width="1"/><path d="M503.1,3.6v4h4" fill="#e4e4e4" stroke="#7c7c7c" stroke-width=".9"/><path d="M497.6,6.4h3.6M497.6,9h6.4M497.6,11.6h5" stroke="#9a9a9a" stroke-width="1.1"/><path d="M503.6,9.6h3.6v4h4v3.6h-4v4h-3.6v-4h-4v-3.6h4z" fill="#1fd42a" stroke="#0a8f14" stroke-width=".9"/><path d="M504.4,10.6h2v4.2h4" fill="none" stroke="#8cf594" stroke-width=".9"/>
<polygon points="516.8,10 522.4,10 519.5999999999999,13.2" fill="#000"/>
<path d="M497.6,7.4q-1.4,3.6 0,7.2M499.6,9.4h2.6" stroke="#555" stroke-width=".8" fill="none"/>
<circle cx="541" cy="10.8" r="7" fill="#fafcff" stroke="url(#gBlue)" stroke-width="2.2"/><circle cx="541" cy="10.8" r="8" fill="none" stroke="#1a56b8" stroke-width=".6"/><path d="M541,6.4V11.2H544.4" fill="none" stroke="#333" stroke-width="1.2"/><path d="M541,4.9v1M541,15.7v1M535.1,10.8h1M545.9,10.8h1" stroke="#888" stroke-width=".8"/>
<polygon points="555.8,10 561.4,10 558.5999999999999,13.2" fill="#000"/>
<rect x="572.5" y="4.6" width="15.4" height="12.8" fill="#fff" stroke="#2a6ac8" stroke-width="1.2"/><rect x="572.5" y="4.6" width="15.4" height="2.4" fill="#3a7ad8"/><path d="M573,11.4h14.4" stroke="#2a6ac8" stroke-width="1"/><path d="M574.4,10l2.4,-1.2l2.2,.6l2,-1.4l2.2,.8l2.6,-1.2" fill="none" stroke="#b01a10" stroke-width="1.3"/><path d="M574.8,15.4l2.2,-1l2,.8l2.4,-1.8l2.2,1.2l2,-1.4" fill="none" stroke="#169a16" stroke-width="1.3"/>
<polygon points="594.8,10 600.4,10 597.5999999999999,13.2" fill="#000"/>
<path d="M624,3.7V15.4L626.9,12.9L629.3,17.9L631.2,17L628.9,12.3L632,12z" fill="#505050"/>
<path d="M648.9,11.4H655.4M657.8,11.4H664.3M656.6,4.1V10.2M656.6,12.6V19" stroke="#505050" stroke-width="1.05"/>
<path d="M690.5,5V17.8M713.2,11.4H725.4M740.8,18L753,5.6" stroke="#505050" stroke-width="1.3"/>
<g stroke="#505050" stroke-width="1" fill="none"><path d="M766.8,14.6L778.6,4.6M768.4,18.2L780.6,8M767.2,16.6L779.6,6.2"/><path d="M770.6,10.4l1,7M773.4,8l1,7M776.2,5.8l1,6.8M778.8,3l.8,6.8"/></g>
<text x="777.6" y="19.9" font-family="Liberation Sans,sans-serif" font-weight="700" font-size="6.6" fill="#505050">E</text>
<path d="M795.8,4.5H809.4M795.8,7.6H809.4M795.8,11.3H809.4M795.8,15.2H805" stroke="#505050" stroke-width="1" stroke-dasharray="1 1" fill="none"/>
<text x="805.8" y="19.9" font-family="Liberation Sans,sans-serif" font-weight="700" font-size="6.6" fill="#505050">F</text>
<text x="826.2" y="15.8" font-family="Liberation Sans,sans-serif" font-weight="700" font-size="12.6" fill="#505050">A</text>
<rect x="853" y="4.9" width="11.2" height="12.8" fill="none" stroke="#505050" stroke-width="1" stroke-dasharray="1 1"/><rect x="852.2" y="4.2" width="1.8" height="1.4" fill="#505050"/>
<text x="855" y="15.9" font-family="Liberation Sans,sans-serif" font-weight="400" font-size="11.6" fill="#505050">T</text>
<path d="M883.4,4.6l3.2,3.4h-6.4zM890.4,16.6l-3.2,-3.4h6.4z" fill="#505050"/><path d="M880.6,9.6h5.6v1.6h-5.6zM887.4,10.6h5.8v1.6h-5.8z" fill="#505050"/><path d="M882.6,12.4l1.8,2l4.6,-5.6" fill="none" stroke="#505050" stroke-width="1.5"/>
<polygon points="900.8,10 906.4,10 903.5999999999999,13.2" fill="#000"/>
<circle cx="1643.5" cy="8.2" r="4.2" fill="#f4f6ff" stroke="#2a58d0" stroke-width="1.4"/><path d="M1640.4,11.3L1635.9,15.7" stroke="#2a58d0" stroke-width="2.4" stroke-linecap="round"/>
<path d="M1660.2,12.6a6,4.8 0 1 1 6.4,4.8l-3.4,2.2l.4,-2.6a6,4.8 0 0 1 -3.4,-4.4z" fill="#ececf0" stroke="#b4b4bc" stroke-width=".9"/>
<circle cx="1674.4" cy="8.2" r="8.2" fill="url(#gRed)"/>
<text x="1674.4" y="12.9" text-anchor="middle" font-family="Liberation Sans,sans-serif" font-weight="400" font-size="13" fill="#fff">1</text>
</svg>
<div class="t" style="left:1647px;top:36px;color:#000;">167.950</div>
<div class="t" style="left:1647px;top:69px;color:#000;">166.810</div>
<div class="t" style="left:1647px;top:102px;color:#000;">165.670</div>
<div class="t" style="left:1647px;top:135px;color:#000;">164.500</div>
<div class="t" style="left:1647px;top:168px;color:#000;">163.360</div>
<div class="t" style="left:1647px;top:201px;color:#000;">162.220</div>
<div class="t" style="left:1647px;top:234px;color:#000;">161.080</div>
<div class="t" style="left:1647px;top:267px;color:#000;">159.910</div>
<div class="t" style="left:1647px;top:300px;color:#000;">158.770</div>
<div class="t" style="left:1647px;top:333px;color:#000;">157.630</div>
<div class="t" style="left:1647px;top:366px;color:#000;">156.490</div>
<div class="t" style="left:1647px;top:399px;color:#000;">155.320</div>
<div class="t" style="left:1647px;top:431px;color:#000;">154.180</div>
<div class="t" style="left:1647px;top:464px;color:#000;">153.040</div>
<div class="t" style="left:1647px;top:497px;color:#000;">151.900</div>
<div class="t" style="left:1647px;top:530px;color:#000;">150.730</div>
<div class="t" style="left:1647px;top:563px;color:#000;">149.590</div>
<div class="t" style="left:1647px;top:596px;color:#000;">148.450</div>
<div class="pb" style="top:250px;height:10px;background:#000;color:#fff"><span style="">160.471</span></div>
<div class="pb" style="top:173px;height:11px;background:#ff0000;color:#fff"><span style="">163.117</span></div>
<div class="pb" style="top:211px;height:11px;background:#ff0000;color:#fff"><span style="">161.798</span></div>
<div class="pb" style="top:259px;height:11px;background:#ffa500;color:#fff"><span style="">160.131</span></div>
<div class="pb" style="top:293px;height:11px;background:#0000ff;color:#fff"><span style="">158.950</span></div>
<div class="pb" style="top:332px;height:11px;background:#0000ff;color:#fff"><span style="">157.596</span></div>
<div class="t" style="left:1645px;top:609px;color:#000;">0.8701</div>
<div class="t" style="left:1645px;top:630px;color:#000;">0.00</div>
<div class="t" style="left:1645px;top:708px;color:#000;">-2.7475</div>
<div class="t" style="left:1645px;top:724px;color:#000;">100</div>
<div class="t" style="left:1645px;top:740px;color:#000;">80</div>
<div class="t" style="left:1645px;top:771px;color:#000;">50</div>
<div class="t" style="left:1645px;top:809px;color:#000;">15</div>
<div class="t" style="left:1645px;top:818px;color:#000;">0</div>
<div class="t" style="left:4.5px;top:834px;color:#000;letter-spacing:-0.4px">12 Sep 2022</div>
<div class="t" style="left:68.5px;top:834px;color:#000;letter-spacing:-0.4px">13 Sep 04:00</div>
<div class="t" style="left:132.5px;top:834px;color:#000;letter-spacing:-0.4px">13 Sep 20:00</div>
<div class="t" style="left:196.5px;top:834px;color:#000;letter-spacing:-0.4px">14 Sep 12:00</div>
<div class="t" style="left:260.5px;top:834px;color:#000;letter-spacing:-0.4px">15 Sep 04:00</div>
<div class="t" style="left:324.5px;top:834px;color:#000;letter-spacing:-0.4px">15 Sep 20:00</div>
<div class="t" style="left:388.5px;top:834px;color:#000;letter-spacing:-0.4px">16 Sep 12:00</div>
<div class="t" style="left:452.5px;top:834px;color:#000;letter-spacing:-0.4px">19 Sep 04:00</div>
<div class="t" style="left:516.5px;top:834px;color:#000;letter-spacing:-0.4px">19 Sep 20:00</div>
<div class="t" style="left:580.5px;top:834px;color:#000;letter-spacing:-0.4px">20 Sep 12:00</div>
<div class="t" style="left:644.5px;top:834px;color:#000;letter-spacing:-0.4px">21 Sep 04:00</div>
<div class="t" style="left:708.5px;top:834px;color:#000;letter-spacing:-0.4px">21 Sep 20:00</div>
<div class="t" style="left:772.5px;top:834px;color:#000;letter-spacing:-0.4px">22 Sep 12:00</div>
<div class="t" style="left:836.5px;top:834px;color:#000;letter-spacing:-0.4px">23 Sep 04:00</div>
<div class="t" style="left:900.5px;top:834px;color:#000;letter-spacing:-0.4px">25 Sep 23:00</div>
<div class="t" style="left:964.5px;top:834px;color:#000;letter-spacing:-0.4px">26 Sep 12:00</div>
<div class="t" style="left:1028.5px;top:834px;color:#000;letter-spacing:-0.4px">27 Sep 04:00</div>
<div class="t" style="left:1092.5px;top:834px;color:#000;letter-spacing:-0.4px">27 Sep 20:00</div>
<div class="t" style="left:1156.5px;top:834px;color:#000;letter-spacing:-0.4px">28 Sep 12:00</div>
<div class="t" style="left:1220.5px;top:834px;color:#000;letter-spacing:-0.4px">29 Sep 04:00</div>
<div class="t" style="left:1284.5px;top:834px;color:#000;letter-spacing:-0.4px">29 Sep 20:00</div>
<div class="t" style="left:20px;top:31px;color:#000;letter-spacing:-0.33px">GBPJPY-,H4&nbsp; 159.992 160.582 159.871 160.471</div>
<div class="t" style="left:9.5px;top:611px;color:#000;letter-spacing:-0.31px">MACD(12,26,9) 0.3053 -0.6373</div>
<div class="t" style="left:9px;top:726px;color:#000;">RSI(14) 64.1347</div>
<div class="tb" style="left:30.6px;top:3.1px;font-size:12px;font-weight:400;">新订单</div>
<div class="tb" style="left:183.4px;top:3.3px;font-size:11.7px;font-weight:400">自动交易</div>
<div class="tb pd" style="left:913.8px;top:7px">M1</div>
<div class="tb pd" style="left:942px;top:7px">M5</div>
<div class="tb pd" style="left:970.4px;top:7px">M15</div>
<div class="tb pd" style="left:998.4px;top:7px">M30</div>
<div class="tb pd" style="left:1026.5px;top:7px">H1</div>
<div class="tb pd" style="left:1054px;top:7px">H4</div>
<div class="tb pd" style="left:1082.3px;top:7px">D1</div>
<div class="tb pd" style="left:1111.4px;top:7px">W1</div>
<div class="tb pd" style="left:1137.9px;top:7px">MN</div>
</div></body></html>
